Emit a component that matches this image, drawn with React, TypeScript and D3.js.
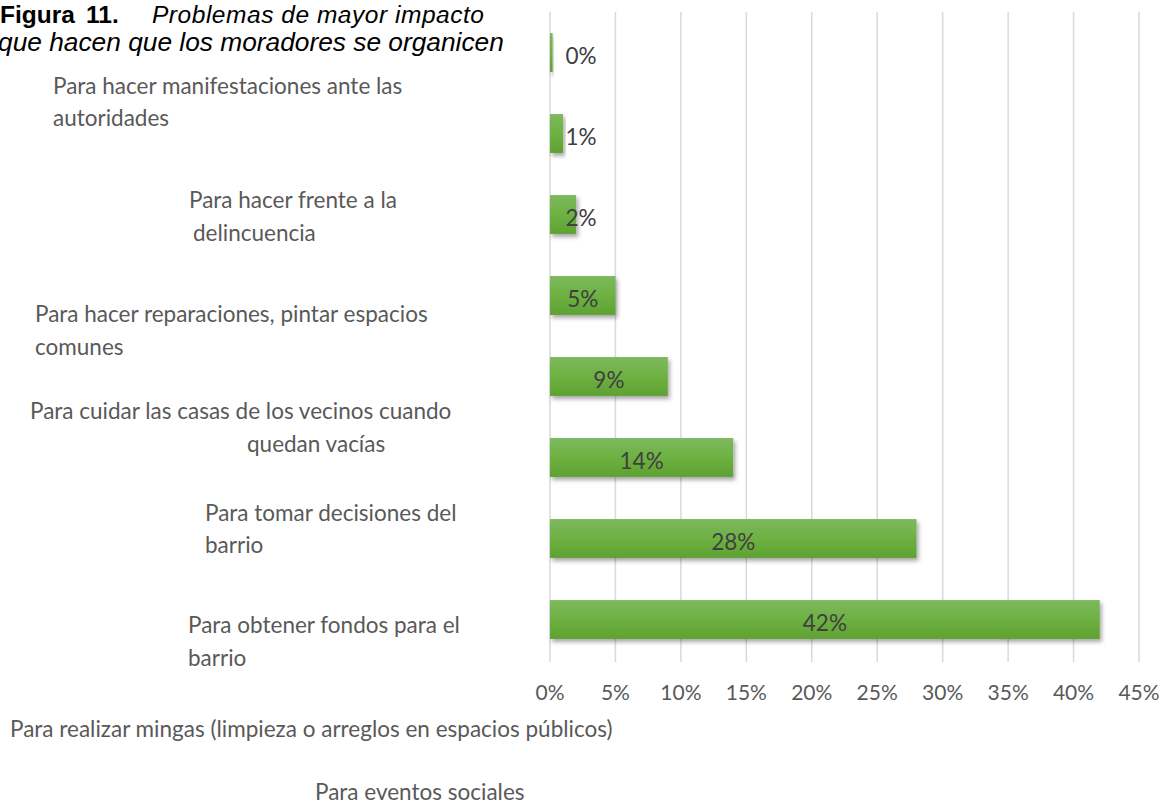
import React from "react";
import * as d3 from "d3";

const categories = [
  "Para hacer manifestaciones ante las autoridades",
  "Para hacer frente a la delincuencia",
  "Para hacer reparaciones, pintar espacios comunes",
  "Para cuidar las casas de los vecinos cuando quedan vacías",
  "Para tomar decisiones del barrio",
  "Para obtener fondos para el barrio",
  "Para realizar mingas (limpieza o arreglos en espacios públicos)",
  "Para eventos sociales",
];
const values = [0.2, 1, 2, 5, 9, 14, 28, 42];
const ticks = [0, 5, 10, 15, 20, 25, 30, 35, 40, 45];

// label lines as they appear (text wrapping in the original)
const labelLines = [
  ["Para hacer manifestaciones ante las", "autoridades"],
  ["Para hacer frente a la", "delincuencia"],
  ["Para hacer reparaciones, pintar espacios", "comunes"],
  ["Para cuidar las casas de los vecinos cuando", "quedan vacías"],
  ["Para tomar decisiones del", "barrio"],
  ["Para obtener fondos para el", "barrio"],
  ["Para realizar mingas (limpieza o arreglos en espacios públicos)"],
  ["Para eventos sociales"],
];
// layout: [x, centerY] per line
const labelLayout = [
  [[53, 88], [53, 120]],
  [[189, 202], [193, 235]],
  [[35, 316], [35, 349]],
  [[30, 413], [247, 446]],
  [[205, 515], [205, 547]],
  [[188, 627], [188, 660]],
  [[10, 731]],
  [[315, 794]],
];

const W = 1165, H = 805;
const FONT = "Lato, 'Open Sans', sans-serif";
const TFONT = "'Liberation Sans', Arial, sans-serif";

export default function App() {
  const x = d3.scaleLinear().domain([0, 45]).range([550, 1139]);
  const y = d3.scaleBand<number>().domain(d3.range(values.length)).range([12, 660]).paddingInner(0.52).paddingOuter(0.26);
  const bw = y.bandwidth();
  return (
    <svg width={W} height={H} style={{ position: "absolute", left: 0, top: 0, background: "#fff" }}>
      <defs>
        <linearGradient id="barGrad" x1="0" y1="0" x2="0" y2="1">
          <stop offset="0" stopColor="#7db95e" />
          <stop offset="0.5" stopColor="#6db142" />
          <stop offset="1" stopColor="#5fa232" />
        </linearGradient>
        <filter id="sh" x="-10%" y="-30%" width="130%" height="180%">
          <feDropShadow dx="2" dy="3" stdDeviation="2" floodColor="#000" floodOpacity="0.35" />
        </filter>
      </defs>
      {ticks.map((t) => (
        <line key={t} x1={x(t)} x2={x(t)} y1={12} y2={662} stroke="#d9d9d9" strokeWidth={1.5} />
      ))}
      {values.map((v, i) => (
        <rect key={i} x={x(0)} y={y(i)!} width={x(v) - x(0)} height={bw} fill="url(#barGrad)" filter="url(#sh)" />
      ))}
      {values.map((v, i) => {
        const cx = Math.max((x(0) + x(v)) / 2, x(0) + 31);
        return (
          <text key={i} x={cx} y={y(i)! + bw / 2 + 6} textAnchor="middle" dominantBaseline="middle"
            fontFamily={FONT} fontSize={22.5} fill="#404040">
            {Math.round(v)}%
          </text>
        );
      })}
      {ticks.map((t) => (
        <text key={t} x={x(t)} y={695} textAnchor="middle" dominantBaseline="middle" fontFamily={FONT} fontSize={21} fill="#595959">
          {t}%
        </text>
      ))}
      {labelLines.map((lines, i) =>
        lines.map((ln, j) => (
          <text key={i + "-" + j} x={labelLayout[i][j][0]} y={labelLayout[i][j][1]} dominantBaseline="middle"
            fontFamily={FONT} fontSize={22.5} fill="#595959">
            {ln}
          </text>
        ))
      )}
      <text y={23} fontFamily={TFONT} fontSize={24.5} fill="#000">
        <tspan x={0} fontWeight="bold">Figura</tspan>
        <tspan x={86} fontWeight="bold">11.</tspan>
        <tspan x={152} fontStyle="italic" textLength={332} lengthAdjust="spacing">Problemas de mayor impacto</tspan>
      </text>
      <text x={-2} y={51} fontFamily={TFONT} fontSize={26.3} fontStyle="italic" fill="#000">
        que hacen que los moradores se organicen
      </text>
    </svg>
  );
}
